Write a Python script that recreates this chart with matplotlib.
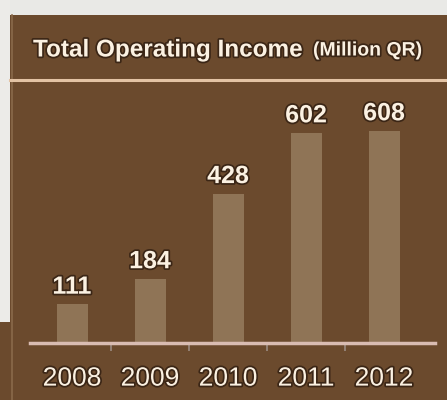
import matplotlib.pyplot as plt
import matplotlib.patheffects as pe
from matplotlib.patches import Rectangle

years = ['2008', '2009', '2010', '2011', '2012']
income = [111, 184, 428, 602, 608]

panel_col = '#6b4a2d'
bar_col = '#8f7456'
text_col = '#fbf1e2'

W, H = 447, 400
fig = plt.figure(figsize=(W / 100, H / 100), dpi=100)
fig.patch.set_facecolor(panel_col)

# light page margin on top and left of the panel
fig.patches.append(Rectangle((0, 1 - 15 / H), 1, 15 / H, transform=fig.transFigure,
                             facecolor='#e9e9e6', edgecolor='none', zorder=0))
fig.patches.append(Rectangle((0, 1 - 322 / H), 10 / W, 322 / H, transform=fig.transFigure,
                             facecolor='#ecebe8', edgecolor='none', zorder=0))
# thin border on the panel's left edge
fig.lines.append(plt.Line2D([12 / W, 12 / W], [0, 1 - 15 / H], transform=fig.transFigure,
                            color='#8a6a4a', lw=1.2))
# separator under the header
fig.lines.append(plt.Line2D([10 / W, 1], [1 - 80 / H, 1 - 80 / H], transform=fig.transFigure,
                            color='#e3c3a4', lw=2.2))

shadow = [pe.withStroke(linewidth=2.5, foreground='#3b2616')]
fig.text(33 / W, 1 - 50 / H, 'Total Operating Income', fontsize=17.5, fontweight='bold',
         family='Liberation Sans', color=text_col, va='center', ha='left', path_effects=shadow)
fig.text(313 / W, 1 - 51 / H, '(Million QR)', fontsize=14, fontweight='bold',
         family='Liberation Sans', color=text_col, va='center', ha='left', path_effects=shadow)

left, right = 30, 435
base, top = 343, 90
ax = fig.add_axes([left / W, 1 - base / H, (right - left) / W, (base - top) / H])
ax.set_facecolor('none')

step = 78.0
x = list(range(len(years)))
ax.bar(x, income, width=31 / step, color=bar_col, zorder=2)
ax.set_xlim(-(72 - left) / step, (right - 72) / step)
ax.set_ylim(0, (base - top) / 0.349)

for xi, v in zip(x, income):
    ax.annotate(str(v), (xi, v), xytext=(0, 4), textcoords='offset points',
                ha='center', va='bottom', fontsize=18, fontweight='bold',
                family='Liberation Sans', color=text_col, path_effects=shadow)

for s in ['top', 'right', 'left']:
    ax.spines[s].set_visible(False)
ax.spines['bottom'].set_color('#d9bcb2')
ax.spines['bottom'].set_linewidth(2.5)
ax.set_yticks([])
ax.set_xticks([i + 0.5 for i in x[:-1]], minor=True)
ax.tick_params(axis='x', which='minor', length=6, width=1.2, color='#9a8a80', direction='out')
ax.set_xticks(x)
ax.set_xticklabels(years)
ax.tick_params(axis='x', which='major', length=0, pad=17)
for lab in ax.get_xticklabels():
    lab.set_fontsize(19)
    lab.set_family('Liberation Sans')
    lab.set_color(text_col)
    lab.set_path_effects([pe.withStroke(linewidth=2.5, foreground='#3b2616')])

fig.savefig('out.png', dpi=100, facecolor=fig.get_facecolor())
